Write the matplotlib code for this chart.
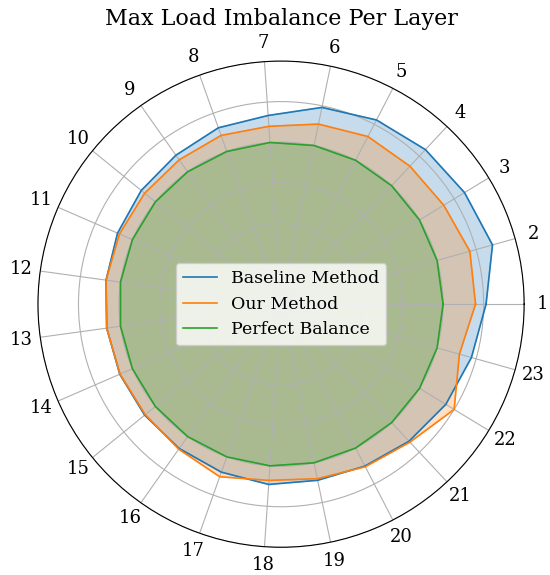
import numpy as np
import matplotlib
matplotlib.use('Agg')
import matplotlib.pyplot as plt

plt.rcParams['font.family'] = 'serif'

# === dados ===
layers = [str(i) for i in range(1, 24)]
baseline = [1.265, 1.355, 1.325, 1.305, 1.28, 1.24, 1.167, 1.155, 1.125, 1.112,
            1.10, 1.09, 1.086, 1.085, 1.085, 1.09, 1.10, 1.115, 1.11, 1.125,
            1.157, 1.19, 1.22]
ours = [1.20, 1.21, 1.175, 1.165, 1.165, 1.135, 1.10, 1.105, 1.09, 1.085,
        1.087, 1.09, 1.086, 1.083, 1.08, 1.095, 1.13, 1.09, 1.10, 1.13,
        1.165, 1.25, 1.143]
perfect = [1.0] * 23
r_ticks = [0.25, 0.5, 0.75, 1.0, 1.25, 1.5]


def main():
    n = len(layers)
    angles = np.linspace(0, 2 * np.pi, n, endpoint=False).tolist()
    angles_c = angles + angles[:1]

    fig = plt.figure(figsize=(5.5, 5.75), dpi=100)
    ax = fig.add_axes([0.069, 0.047, 0.884, 0.848], projection='polar')

    for vals, label, color in [(baseline, 'Baseline Method', 'C0'),
                               (ours, 'Our Method', 'C1'),
                               (perfect, 'Perfect Balance', 'C2')]:
        v = vals + vals[:1]
        ax.plot(angles_c, v, color=color, linewidth=1.2, label=label)
        ax.fill(angles_c, v, color=color, alpha=0.25)

    ax.set_xticks(angles)
    ax.set_xticklabels(layers, fontsize=13)
    ax.tick_params(axis='x', pad=3)
    ax.set_ylim(0, 1.5)
    ax.set_yticks(r_ticks)
    ax.set_yticklabels([])
    ax.set_title('Max Load Imbalance Per Layer', fontsize=16, pad=26)
    ax.legend(loc='center', fontsize=12.5)

    fig.savefig('out.png')
    plt.close(fig)


if __name__ == '__main__':
    main()
